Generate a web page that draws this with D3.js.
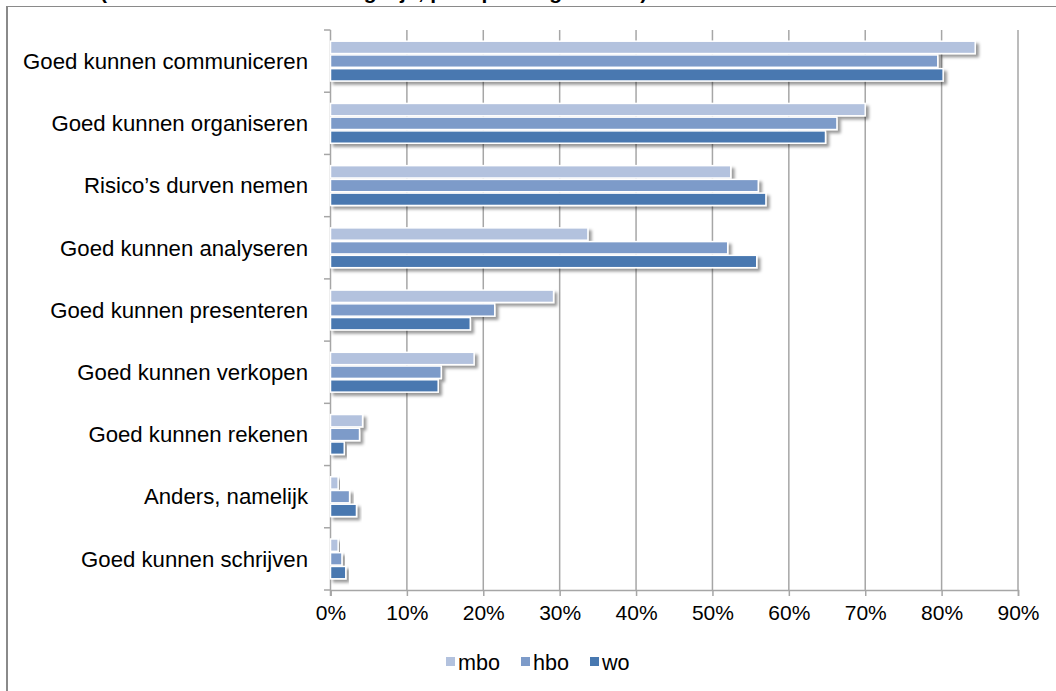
<!DOCTYPE html>
<html><head><meta charset="utf-8">
<script src="https://cdn.jsdelivr.net/npm/d3@7"></script>
<style>
html,body{margin:0;padding:0;background:#fff;}
svg{display:block;font-family:"Liberation Sans",Arial,sans-serif;}
</style></head>
<body>
<svg id="chart" width="1056" height="691"></svg>
<script>
const categories = ["Goed kunnen communiceren","Goed kunnen organiseren","Risico’s durven nemen","Goed kunnen analyseren","Goed kunnen presenteren","Goed kunnen verkopen","Goed kunnen rekenen","Anders, namelijk","Goed kunnen schrijven"];
const seriesNames = ["mbo","hbo","wo"];
const mbo = [84.4, 70.0, 52.4, 33.7, 29.2, 18.8, 4.2, 1.0, 1.0];
const hbo = [79.5, 66.3, 56.0, 52.0, 21.5, 14.5, 3.8, 2.5, 1.5];
const wo  = [80.2, 64.8, 57.0, 55.8, 18.3, 14.1, 1.8, 3.4, 2.0];
const xTicks = [0,10,20,30,40,50,60,70,80,90];
const colors = ["#b3c2de","#7d9bc9","#4878b0"];
const titleText = "(meerdere antwoorden mogelijk; per opleidingsniveau)";

const values = [mbo, hbo, wo];
const svg = d3.select("#chart");

// outer frame (partially off-canvas)
svg.append("rect").attr("x",7).attr("y",6).attr("width",1100).attr("height",750)
  .attr("fill","none").attr("stroke","#8a8a8a").attr("stroke-width",2);
// cut-off title (only descenders visible, as in the reference)
svg.append("text").attr("x",100).attr("y",-1).attr("font-size",21).attr("font-weight","bold")
  .attr("fill","#000").text(titleText);
// white cover so only a sliver of the title shows
svg.append("rect").attr("x",0).attr("y",3).attr("width",1056).attr("height",3).attr("fill","#fff");

const defs = svg.append("defs");
const f = defs.append("filter").attr("id","shadow").attr("x","-10%").attr("y","-30%").attr("width","130%").attr("height","190%");
f.append("feDropShadow").attr("dx",3).attr("dy",3).attr("stdDeviation",1.6).attr("flood-color","#000").attr("flood-opacity",0.4);

const x = d3.scaleLinear().domain([0,90]).range([330.5,1018]);
const y = d3.scaleBand().domain(categories).range([30,590]).paddingInner(0.36).paddingOuter(0.18);
const yInner = d3.scaleBand().domain(seriesNames).range([0,y.bandwidth()]).paddingInner(0.1);

// gridlines
svg.append("g").selectAll("line").data(xTicks.slice(1)).join("line")
  .attr("x1",d=>x(d)).attr("x2",d=>x(d)).attr("y1",30).attr("y2",590)
  .attr("stroke","#a6a6a6").attr("stroke-width",1.5);

// x axis
const xAxis = svg.append("g").attr("transform","translate(0,590)")
  .call(d3.axisBottom(x).tickValues(xTicks).tickFormat(d=>d+"%").tickSize(6).tickPadding(9));
xAxis.select(".domain").attr("stroke","#a6a6a6").attr("stroke-width",1.5);
xAxis.selectAll(".tick line").attr("stroke","#a6a6a6").attr("stroke-width",1.5);
xAxis.selectAll("text").attr("font-size",21).attr("fill","#000").attr("font-family","Liberation Sans, Arial, sans-serif");

// y axis line & ticks at category boundaries
const yBounds = d3.range(categories.length+1).map(i=>30 + i*(560/categories.length));
svg.append("line").attr("x1",330.5).attr("x2",330.5).attr("y1",30).attr("y2",596)
  .attr("stroke","#a6a6a6").attr("stroke-width",1.5);
svg.append("g").selectAll("line").data(yBounds).join("line")
  .attr("x1",324).attr("x2",330.5).attr("y1",d=>d).attr("y2",d=>d)
  .attr("stroke","#a6a6a6").attr("stroke-width",1.5);

// category labels
svg.append("g").selectAll("text").data(categories).join("text")
  .attr("x",308).attr("y",d=>y(d)+y.bandwidth()/2).attr("dy","0.35em")
  .attr("text-anchor","end").attr("font-size",22.2).attr("fill","#000").text(d=>d);

// bars
const rows = [];
categories.forEach((c,i)=>seriesNames.forEach((s,j)=>rows.push({c,s,j,v:values[j][i]})));
svg.append("g").selectAll("rect").data(rows).join("rect")
  .attr("x",x(0)).attr("y",d=>y(d.c)+yInner(d.s))
  .attr("width",d=>x(d.v)-x(0)).attr("height",yInner.bandwidth())
  .attr("fill",d=>colors[d.j]).attr("stroke","#fff").attr("stroke-width",1.5)
  .attr("filter","url(#shadow)");

// legend
const legendX = [446, 521, 590];
const lg = svg.append("g");
seriesNames.forEach((s,i)=>{
  lg.append("rect").attr("x",legendX[i]).attr("y",657).attr("width",9).attr("height",9).attr("fill",colors[i]);
  lg.append("text").attr("x",legendX[i]+12).attr("y",662).attr("dy","0.35em").attr("font-size",21.6).attr("fill","#000").text(s);
});
</script>
</body></html>
